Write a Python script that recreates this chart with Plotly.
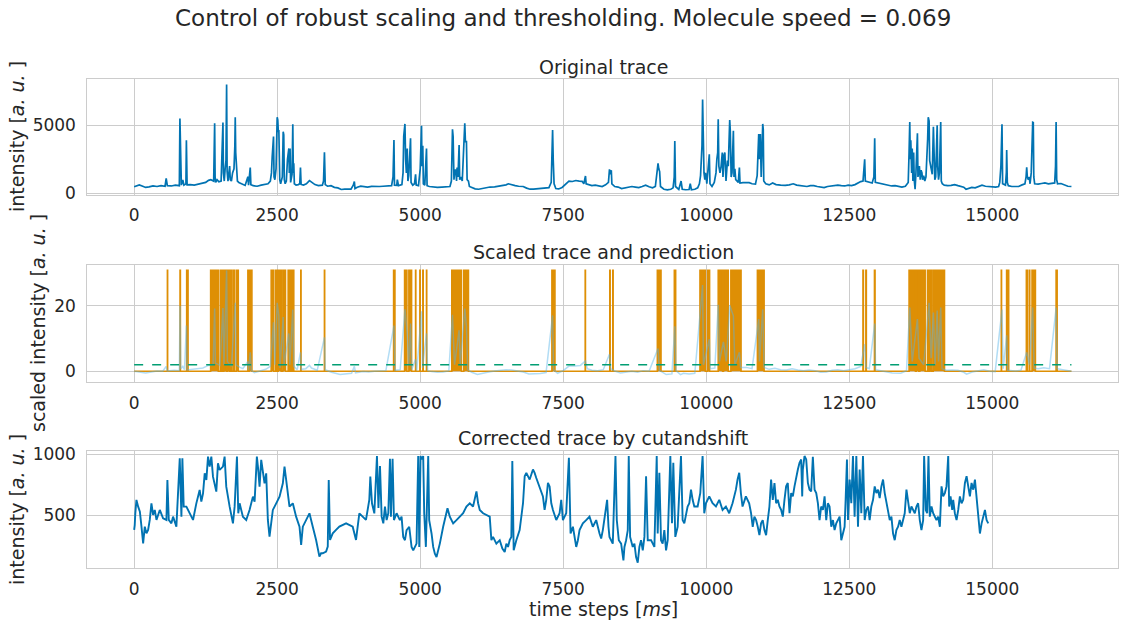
import plotly.graph_objects as go
from plotly.subplots import make_subplots

# ---- data ----
# Original trace: (time step, intensity)
ORIG_TRACE = [
    (0, 480), (40, 560), (90, 620), (150, 520), (200, 430), (260, 470), (330, 540), (400, 500),
    (470, 560), (540, 520), (560, 1100), (580, 560), (650, 540), (720, 600), (790, 560), (800, 5500),
    (812, 700), (825, 600), (850, 980), (870, 600), (905, 700), (913, 3900), (925, 620), (980, 640),
    (1050, 600), (1120, 680), (1180, 720), (1250, 800), (1300, 950), (1340, 1000), (1390, 900),
    (1400, 3000), (1407, 5150), (1415, 1200), (1425, 800), (1450, 1000), (1480, 850), (1520, 900),
    (1540, 2800), (1552, 5200), (1560, 1500), (1575, 900), (1590, 1800), (1605, 2400), (1616, 8000),
    (1625, 1600), (1640, 900), (1669, 2000), (1680, 1000), (1700, 900), (1720, 1500), (1745, 1800),
    (1760, 3500), (1767, 5590), (1775, 3000), (1790, 1400), (1805, 900), (1830, 800), (1880, 720),
    (1940, 580), (1988, 1225), (2000, 600), (2029, 1890), (2040, 640), (2080, 560), (2150, 520),
    (2220, 600), (2280, 640), (2340, 700), (2380, 900), (2400, 1500), (2413, 2700), (2425, 3200),
    (2436, 4170), (2445, 1200), (2460, 1000), (2480, 1800), (2500, 5590), (2510, 5400), (2520, 4500),
    (2529, 4660), (2545, 1000), (2560, 700), (2590, 1200), (2605, 4530), (2615, 4300), (2625, 1000),
    (2640, 700), (2660, 900), (2680, 2500), (2704, 3300), (2712, 1500), (2725, 3300), (2735, 800),
    (2760, 1400), (2773, 5070), (2782, 1500), (2790, 2200), (2800, 700), (2830, 600), (2870, 640),
    (2895, 700), (2907, 1890), (2918, 650), (2960, 600), (3010, 700), (3064, 930), (3100, 800),
    (3160, 640), (3220, 560), (3290, 600), (3310, 900), (3326, 3010), (3340, 640), (3380, 520),
    (3440, 560), (3500, 440), (3560, 400), (3620, 280), (3680, 300), (3740, 290), (3790, 310),
    (3830, 600), (3849, 860), (3860, 350), (3900, 450), (3960, 520), (4020, 480), (4080, 460),
    (4150, 510), (4220, 490), (4285, 500), (4350, 520), (4420, 540), (4500, 560), (4525, 1200),
    (4541, 3920), (4550, 600), (4590, 580), (4600, 1000), (4620, 560), (4680, 640), (4700, 1500),
    (4712, 4200), (4725, 5000), (4733, 5100), (4745, 2500), (4758, 1500), (4773, 3300), (4785, 900),
    (4800, 1300), (4815, 3000), (4831, 4040), (4840, 800), (4870, 600), (4900, 700), (4919, 1400),
    (4930, 600), (4970, 560), (5000, 1800), (5012, 4500), (5023, 4970), (5030, 2000), (5045, 3500),
    (5055, 700), (5080, 600), (5110, 3300), (5120, 560), (5160, 500), (5220, 460), (5300, 440),
    (5380, 460), (5460, 480), (5520, 500), (5545, 900), (5564, 4700), (5575, 4200), (5590, 1000),
    (5605, 1700), (5622, 1715), (5635, 900), (5645, 1900), (5660, 1200), (5670, 2000), (5680, 3550),
    (5690, 1000), (5710, 1200), (5735, 900), (5760, 2800), (5779, 5150), (5790, 3800), (5808, 3800),
    (5820, 1000), (5843, 900), (5860, 500), (5900, 420), (5960, 330), (6020, 300), (6080, 360),
    (6150, 420), (6220, 460), (6300, 470), (6380, 520), (6440, 600), (6500, 620), (6540, 700),
    (6600, 620), (6660, 560), (6720, 520), (6800, 500), (6860, 380), (6920, 300), (6980, 300),
    (7040, 330), (7100, 320), (7180, 360), (7250, 420), (7290, 800), (7305, 2600), (7314, 4650),
    (7325, 2450), (7340, 700), (7370, 350), (7420, 320), (7480, 430), (7540, 700), (7600, 900),
    (7660, 870), (7720, 940), (7780, 900), (7830, 880), (7860, 700), (7889, 1270), (7900, 700),
    (7950, 620), (8000, 560), (8060, 600), (8120, 540), (8180, 500), (8240, 620), (8290, 800),
    (8308, 1760), (8320, 1400), (8340, 1700), (8350, 700), (8400, 500), (8460, 460), (8520, 350),
    (8580, 400), (8640, 480), (8700, 500), (8760, 460), (8820, 420), (8880, 500), (8940, 600),
    (9000, 480), (9060, 400), (9110, 500), (9140, 1500), (9157, 2200), (9170, 1800), (9185, 1600),
    (9200, 500), (9260, 300), (9320, 250), (9380, 300), (9420, 400), (9440, 1200), (9450, 3850),
    (9462, 500), (9520, 280), (9560, 900), (9580, 300), (9640, 260), (9700, 280), (9720, 700),
    (9740, 260), (9800, 300), (9850, 400), (9880, 700), (9900, 1300), (9915, 3000), (9925, 3500),
    (9936, 6900), (9945, 2500), (9960, 1500), (9975, 1000), (9990, 1500), (10010, 700), (10053, 2870),
    (10065, 700), (10100, 500), (10140, 800), (10170, 1500), (10185, 2500), (10200, 3000),
    (10209, 5440), (10220, 2000), (10240, 1500), (10260, 2000), (10280, 3000), (10292, 1200),
    (10310, 2800), (10325, 3000), (10345, 900), (10370, 2400), (10385, 2000), (10400, 4000),
    (10410, 5390), (10420, 4600), (10435, 1200), (10450, 1500), (10474, 4600), (10485, 1200),
    (10500, 1800), (10515, 1000), (10540, 900), (10560, 800), (10579, 1890), (10590, 750),
    (10640, 780), (10700, 760), (10750, 780), (10800, 700), (10860, 680), (10890, 1300),
    (10900, 3000), (10917, 4360), (10930, 2500), (10945, 4360), (10960, 1200), (10975, 3500),
    (10987, 5100), (10996, 4700), (11005, 900), (11040, 700), (11100, 620), (11160, 760),
    (11220, 640), (11300, 600), (11380, 580), (11450, 620), (11520, 700), (11580, 600), (11640, 560),
    (11700, 520), (11760, 500), (11820, 560), (11880, 560), (11940, 500), (12000, 440), (12060, 420),
    (12120, 500), (12180, 520), (12240, 560), (12300, 600), (12360, 560), (12420, 540), (12480, 600),
    (12540, 560), (12600, 640), (12660, 780), (12700, 860), (12740, 900), (12769, 2500), (12780, 900),
    (12830, 860), (12900, 760), (12930, 1200), (12944, 4050), (12955, 800), (13000, 760),
    (13060, 700), (13120, 640), (13180, 600), (13240, 540), (13300, 560), (13360, 480), (13420, 450),
    (13480, 520), (13530, 800), (13545, 3000), (13557, 5240), (13566, 2500), (13575, 3900),
    (13590, 1500), (13600, 3300), (13612, 900), (13625, 3000), (13635, 1000), (13650, 300),
    (13665, 1500), (13680, 3000), (13691, 4410), (13700, 1200), (13712, 1500), (13725, 2000),
    (13740, 1000), (13755, 1700), (13770, 1500), (13780, 1000), (13800, 1300), (13820, 900),
    (13840, 1200), (13860, 2500), (13870, 4000), (13880, 5590), (13895, 5300), (13905, 2400),
    (13920, 2000), (13935, 1500), (13950, 1400), (13970, 4900), (13980, 3000), (13995, 1000),
    (14010, 1200), (14025, 4500), (14036, 5000), (14045, 2000), (14060, 1000), (14075, 1500),
    (14088, 3000), (14098, 5240), (14108, 900), (14125, 700), (14160, 600), (14220, 560),
    (14280, 580), (14340, 640), (14400, 560), (14460, 500), (14500, 450), (14540, 300), (14580, 360),
    (14640, 440), (14700, 400), (14760, 520), (14820, 600), (14880, 520), (14940, 500), (15000, 480),
    (15060, 460), (15110, 500), (15130, 800), (15150, 2000), (15169, 5070), (15180, 700),
    (15230, 600), (15245, 1500), (15251, 3190), (15262, 800), (15280, 560), (15340, 500),
    (15400, 520), (15460, 500), (15520, 620), (15570, 700), (15590, 1200), (15601, 1910),
    (15612, 1200), (15630, 1000), (15645, 1200), (15660, 700), (15680, 1500), (15695, 4800),
    (15706, 5220), (15716, 5200), (15725, 1200), (15740, 700), (15800, 680), (15860, 720),
    (15920, 760), (15980, 700), (16040, 720), (16090, 760), (16105, 2000), (16115, 5240),
    (16125, 1000), (16140, 700), (16200, 720), (16260, 600), (16320, 520), (16383, 500),
]

# Scaled trace: (time step, scaled intensity)
SCALED_TRACE = [
    (0, 0.0), (100, -0.3), (200, -0.5), (300, -0.2), (400, 0.1), (500, 0.0), (560, 1.5), (580, 0.1),
    (700, 0.3), (790, 0.2), (802, 20), (815, 0.8), (850, 1.5), (880, 0.5), (913, 14), (925, 0.4),
    (1000, 0.5), (1100, 0.8), (1200, 1.0), (1300, 1.8), (1380, 2.1), (1407, 19.2), (1420, 2.5),
    (1500, 1.8), (1552, 19.4), (1570, 2), (1616, 30.9), (1630, 3), (1700, 1.5), (1767, 21),
    (1780, 2), (1850, 1.2), (1900, 0.8), (1988, 3), (2000, 0.4), (2029, 5.8), (2050, 0.3),
    (2100, -0.4), (2200, 0.2), (2300, 0.6), (2380, 1.5), (2436, 15), (2460, 2), (2500, 21),
    (2529, 17), (2550, 1.0), (2605, 16.6), (2620, 2), (2704, 11.6), (2720, 2), (2773, 18.9),
    (2790, 1.5), (2850, 0.5), (2907, 5.8), (2920, 0.6), (3000, 0.8), (3064, 1.8), (3100, 1.0),
    (3200, 0.3), (3326, 10.4), (3340, 0.5), (3450, -0.3), (3600, -1.0), (3700, -0.9), (3800, -0.6),
    (3849, 1.5), (3870, -0.5), (4000, -0.1), (4100, -0.2), (4200, 0.0), (4300, 0.1), (4400, 0.2),
    (4541, 14), (4560, 0.3), (4650, 0.5), (4733, 19), (4773, 11.6), (4800, 2), (4831, 14.6),
    (4850, 0.5), (4919, 3.7), (4940, 0.3), (5023, 18.4), (5040, 1), (5110, 11.6), (5130, 0.2),
    (5200, -0.1), (5300, -0.3), (5400, -0.2), (5500, 0.1), (5564, 17.3), (5600, 2), (5680, 12.6),
    (5700, 2), (5779, 19.2), (5808, 13.6), (5830, 0.5), (5900, -0.3), (6000, -1.0), (6100, -0.5),
    (6200, -0.2), (6300, 0.1), (6400, 0.3), (6500, 0.5), (6600, 0.4), (6700, 0.2), (6800, -0.2),
    (6900, -0.8), (7000, -0.8), (7100, -0.7), (7200, -0.4), (7314, 17.1), (7330, 0.5), (7400, -0.6),
    (7500, 0.2), (7600, 1.6), (7700, 1.6), (7800, 1.8), (7889, 3.2), (7920, 0.8), (8000, 0.3),
    (8100, 0.2), (8200, 0.5), (8308, 5.2), (8330, 0.8), (8400, 0.1), (8500, -0.5), (8600, -0.3),
    (8700, 0.0), (8800, -0.3), (8900, 0.2), (9000, 0.0), (9157, 7), (9180, 0.3), (9300, -1.0),
    (9400, -0.8), (9450, 13.8), (9470, 0.2), (9550, -1.0), (9600, -0.6), (9700, -0.8), (9800, -0.6),
    (9936, 26.4), (9950, 2), (10053, 9.8), (10070, 0.8), (10150, 1), (10209, 20.4), (10230, 3),
    (10300, 9), (10350, 3), (10410, 20.2), (10474, 17), (10500, 2), (10579, 5.8), (10600, 1.2),
    (10700, 1.2), (10800, 0.8), (10917, 16), (10930, 3), (10987, 19), (11010, 1.2), (11100, 0.6),
    (11200, 0.9), (11300, 0.5), (11400, 0.4), (11500, 0.8), (11600, 0.4), (11700, 0.2), (11800, 0.4),
    (11900, 0.2), (12000, -0.3), (12100, -0.2), (12200, 0.3), (12300, 0.5), (12400, 0.2),
    (12500, 0.5), (12600, 0.8), (12700, 1.5), (12769, 8.3), (12790, 1.2), (12850, 0.8),
    (12944, 14.6), (12960, 0.5), (13050, 0.2), (13150, -0.2), (13250, -0.5), (13400, -0.6),
    (13500, 0.2), (13557, 19.5), (13600, 3), (13691, 16), (13720, 4), (13800, 2), (13895, 21),
    (13930, 4), (13970, 18), (14000, 2), (14036, 18.6), (14060, 3), (14098, 19.5), (14120, 0.8),
    (14200, 0.3), (14300, 0.4), (14400, 0.3), (14500, -0.3), (14550, -0.9), (14650, -0.2),
    (14750, 0.1), (14850, 0.5), (14950, 0.0), (15050, -0.1), (15169, 18.9), (15190, 0.8),
    (15251, 11), (15270, 0.3), (15400, 0.1), (15500, 0.3), (15601, 5.8), (15650, 2), (15706, 19.5),
    (15730, 1), (15800, 0.8), (15900, 1.1), (16000, 0.8), (16115, 19.5), (16130, 0.8), (16250, 0.4),
    (16383, 0.0),
]

# Prediction: intervals where the predicted state is "on"
PRED_START = [
    581, 802, 918, 1337, 1506, 1529, 1552, 1570, 1634, 1692, 1727, 1785, 1988, 2017, 2395, 2471,
    2517, 2599, 2692, 2715, 2738, 2762, 2785, 2913, 3326, 4535, 4727, 4802, 4919, 4994, 5046, 5110,
    5552, 5762, 7302, 7884, 8314, 8366, 9145, 9442, 9461, 9890, 10023, 10209, 10302, 10430, 10894,
    12739, 12790, 12940, 13545, 13674, 13732, 13867, 13907, 13966, 15157, 15250, 15280, 15595,
    15645, 15694, 16115,
]
PRED_END = [
    585, 808, 942, 1471, 1510, 1533, 1556, 1610, 1669, 1697, 1750, 1820, 1992, 2058, 2436, 2494,
    2570, 2645, 2696, 2720, 2743, 2767, 2790, 2917, 3330, 4558, 4767, 4849, 4923, 5000, 5052, 5114,
    5721, 5843, 7355, 7888, 8320, 8372, 9209, 9446, 9465, 9983, 10058, 10285, 10384, 10608, 11011,
    12746, 12798, 12950, 13656, 13715, 13826, 13884, 13937, 14164, 15161, 15256, 15286, 15610,
    15654, 15753, 16133,
]
PRED_LEVEL = 30.9
THRESHOLD = 2.0
LAST_STEP = 16383

# Corrected trace: (time step, intensity)
CORR_TRACE = [
    (0, 380), (10, 420), (20, 516), (40, 626), (70, 571), (100, 530), (128, 407), (157, 270),
    (186, 407), (215, 352), (244, 380), (273, 462), (302, 598), (331, 503), (360, 544), (390, 462),
    (448, 544), (506, 475), (564, 462), (581, 790), (605, 462), (651, 434), (680, 489), (738, 407),
    (797, 967), (826, 489), (843, 967), (866, 571), (913, 571), (971, 516), (1029, 462), (1087, 598),
    (1145, 708), (1174, 612), (1204, 680), (1233, 844), (1262, 790), (1291, 981), (1320, 899),
    (1349, 981), (1378, 817), (1436, 694), (1465, 926), (1494, 872), (1552, 899), (1581, 981),
    (1610, 735), (1669, 571), (1727, 434), (1756, 571), (1797, 981), (1820, 516), (1843, 598),
    (1901, 489), (1959, 462), (2017, 544), (2076, 653), (2105, 612), (2145, 981), (2169, 872),
    (2192, 735), (2221, 954), (2250, 872), (2279, 762), (2308, 844), (2337, 462), (2366, 325),
    (2395, 462), (2424, 544), (2483, 598), (2541, 653), (2599, 762), (2628, 899), (2657, 790),
    (2686, 680), (2715, 571), (2773, 598), (2831, 489), (2890, 407), (2919, 257), (2948, 407),
    (3006, 462), (3064, 516), (3122, 407), (3180, 298), (3238, 161), (3267, 189), (3297, 189),
    (3355, 202), (3384, 243), (3401, 790), (3424, 298), (3471, 352), (3529, 380), (3587, 407),
    (3704, 434), (3820, 407), (3878, 298), (3936, 516), (3994, 489), (4052, 462), (4110, 626),
    (4128, 817), (4157, 598), (4198, 516), (4244, 985), (4270, 560), (4297, 903), (4326, 489),
    (4355, 434), (4384, 572), (4413, 461), (4442, 517), (4471, 964), (4488, 489), (4517, 964),
    (4541, 461), (4587, 517), (4645, 461), (4674, 489), (4703, 323), (4733, 296), (4762, 379),
    (4808, 406), (4849, 241), (4878, 213), (4936, 268), (4965, 986), (4983, 241), (5006, 986),
    (5029, 958), (5052, 986), (5070, 517), (5099, 241), (5140, 986), (5157, 461), (5180, 406),
    (5198, 351), (5227, 241), (5256, 185), (5285, 158), (5314, 213), (5343, 268), (5401, 406),
    (5448, 517), (5477, 558), (5517, 489), (5576, 434), (5634, 461), (5692, 489), (5750, 517),
    (5808, 572), (5866, 599), (5924, 572), (5953, 627), (5983, 696), (6012, 599), (6041, 544),
    (6099, 517), (6157, 503), (6215, 489), (6244, 296), (6273, 323), (6331, 268), (6390, 296),
    (6436, 227), (6477, 199), (6506, 268), (6535, 241), (6564, 296), (6593, 323), (6610, 944),
    (6634, 213), (6680, 296), (6738, 379), (6797, 599), (6826, 820), (6855, 848), (6913, 793),
    (6971, 875), (7000, 848), (7029, 806), (7087, 737), (7145, 655), (7174, 544), (7203, 627),
    (7233, 765), (7262, 737), (7291, 599), (7320, 544), (7378, 461), (7436, 517), (7465, 627),
    (7494, 461), (7552, 517), (7599, 972), (7628, 351), (7669, 406), (7727, 241), (7756, 296),
    (7785, 379), (7843, 434), (7901, 461), (7959, 489), (8017, 406), (8076, 461), (8134, 351),
    (8163, 310), (8192, 379), (8250, 599), (8267, 627), (8291, 406), (8308, 323), (8366, 268),
    (8413, 986), (8436, 461), (8471, 296), (8512, 268), (8552, 130), (8570, 241), (8599, 296),
    (8628, 379), (8645, 986), (8669, 323), (8715, 241), (8744, 268), (8773, 158), (8802, 112),
    (8831, 241), (8860, 296), (8890, 213), (8919, 323), (8948, 820), (8977, 296), (9035, 296),
    (9093, 241), (9134, 986), (9151, 351), (9180, 848), (9209, 296), (9238, 268), (9267, 379),
    (9297, 213), (9326, 296), (9372, 986), (9401, 434), (9424, 931), (9459, 323), (9500, 406),
    (9558, 986), (9587, 461), (9616, 434), (9674, 572), (9704, 599), (9733, 710), (9762, 627),
    (9791, 572), (9849, 572), (9895, 682), (9936, 986), (9965, 517), (9994, 599), (10052, 655),
    (10110, 599), (10169, 572), (10227, 627), (10285, 544), (10343, 572), (10401, 517), (10459, 599),
    (10518, 710), (10547, 793), (10576, 848), (10605, 682), (10634, 572), (10692, 655), (10750, 599),
    (10783, 517), (10812, 406), (10841, 489), (10871, 461), (10900, 406), (10929, 337), (10958, 434),
    (10987, 461), (11017, 379), (11046, 337), (11075, 461), (11104, 572), (11133, 793), (11163, 627),
    (11192, 765), (11221, 599), (11250, 627), (11279, 572), (11309, 544), (11338, 489), (11367, 627),
    (11396, 737), (11425, 765), (11455, 517), (11484, 682), (11513, 655), (11542, 737), (11571, 820),
    (11601, 875), (11630, 931), (11659, 958), (11677, 655), (11688, 875), (11717, 986), (11747, 958),
    (11776, 765), (11805, 710), (11834, 696), (11863, 980), (11893, 710), (11922, 682), (11951, 599),
    (11980, 461), (12009, 572), (12039, 544), (12068, 655), (12097, 461), (12126, 599), (12155, 572),
    (12185, 406), (12214, 461), (12243, 379), (12272, 434), (12301, 461), (12331, 489), (12360, 296),
    (12389, 351), (12418, 406), (12436, 627), (12459, 958), (12477, 461), (12506, 793), (12535, 599),
    (12564, 986), (12593, 489), (12623, 986), (12652, 406), (12681, 875), (12710, 517), (12739, 986),
    (12769, 461), (12798, 544), (12827, 572), (12856, 461), (12885, 572), (12915, 627), (12944, 737),
    (12973, 682), (13002, 710), (13031, 641), (13061, 737), (13090, 793), (13119, 682), (13148, 599),
    (13177, 517), (13207, 461), (13236, 489), (13265, 351), (13294, 296), (13323, 379), (13353, 406),
    (13382, 461), (13411, 406), (13440, 461), (13469, 517), (13499, 710), (13528, 627), (13557, 517),
    (13586, 572), (13615, 544), (13645, 517), (13674, 572), (13703, 599), (13732, 461), (13761, 379),
    (13791, 461), (13808, 986), (13837, 544), (13861, 517), (13884, 986), (13907, 489), (13937, 572),
    (13966, 517), (14024, 461), (14053, 489), (14083, 406), (14112, 737), (14141, 655), (14170, 682),
    (14199, 737), (14229, 986), (14246, 572), (14270, 655), (14299, 544), (14316, 627), (14345, 517),
    (14375, 461), (14404, 544), (14433, 655), (14462, 599), (14491, 627), (14521, 765), (14550, 820),
    (14579, 737), (14608, 655), (14637, 765), (14667, 710), (14696, 793), (14725, 627), (14754, 517),
    (14783, 351), (14813, 434), (14842, 489), (14871, 544), (14900, 461), (14929, 434),
]

TITLE = "Control of robust scaling and thresholding. Molecule speed = 0.069"
PANEL_TITLES = ["Original trace", "Scaled trace and prediction", "Corrected trace by cutandshift"]
Y_LABELS = ["intensity [<i>a. u.</i> ]", "scaled intensity [<i>a. u.</i> ]", "intensity [<i>a. u.</i> ]"]
X_LABEL = "time steps [<i>ms</i>]"

# ---- styling ----
W, H = 1124, 628
TEXT = "#262626"
GRID = "#cccccc"
BLUE = "#0173B2"
ORANGE = "#DE8F05"
GREEN = "#029E73"
LIGHT_BLUE = "#56B4E9"
FONT = "DejaVu Sans"

# panel boxes in pixels: (top, bottom)
PANELS = [(79.3, 195.0), (265.0, 382.3), (450.7, 568.3)]
LEFT, RIGHT = 87.3, 1118.3
Y_RANGES = [[-125, 8382], [-3.37, 32.55], [65.6, 1029.5]]
Y_DTICK = [5000, 20, 500]
X_RANGE = [-819, 17202]


def px_x(px):
    return px / W


def px_y(py):
    return 1 - py / H


def step_path(starts, ends, level, last):
    xs, ys = [0], [0]
    for s, e in zip(starts, ends):
        xs += [s, s, e, e]
        ys += [0, level, level, 0]
    xs.append(last)
    ys.append(0)
    return xs, ys


fig = make_subplots(rows=3, cols=1)

ox, oy = zip(*ORIG_TRACE)
fig.add_trace(go.Scatter(x=ox, y=oy, mode="lines", line=dict(color=BLUE, width=1.7)), row=1, col=1)

px_, py_ = step_path(PRED_START, PRED_END, PRED_LEVEL, LAST_STEP)
fig.add_trace(
    go.Scatter(x=px_, y=py_, mode="lines", fill="tozeroy", fillcolor=ORANGE,
               line=dict(color=ORANGE, width=1.6)),
    row=2, col=1,
)
sx, sy = zip(*SCALED_TRACE)
fig.add_trace(
    go.Scatter(x=sx, y=sy, mode="lines", opacity=0.45, line=dict(color=LIGHT_BLUE, width=1.5)),
    row=2, col=1,
)
fig.add_trace(
    go.Scatter(x=[0, LAST_STEP], y=[THRESHOLD, THRESHOLD], mode="lines",
               line=dict(color=GREEN, width=1.3, dash="dash")),
    row=2, col=1,
)

cx, cy = zip(*CORR_TRACE)
fig.add_trace(go.Scatter(x=cx, y=cy, mode="lines", line=dict(color=BLUE, width=1.9)), row=3, col=1)

axis_common = dict(
    showgrid=True, gridcolor=GRID, gridwidth=1, zeroline=False,
    showline=True, linecolor=GRID, linewidth=1, mirror=True,
    ticks="", tickformat="d", tickfont=dict(family=FONT, size=17, color=TEXT),
)

layout_axes = {}
for i, (top, bottom) in enumerate(PANELS):
    n = "" if i == 0 else str(i + 1)
    layout_axes["xaxis" + n] = dict(
        axis_common, domain=[px_x(LEFT), px_x(RIGHT)], range=X_RANGE,
        tick0=0, dtick=2500, ticklabelstandoff=5,
    )
    layout_axes["yaxis" + n] = dict(
        axis_common, domain=[px_y(bottom), px_y(top)], range=Y_RANGES[i],
        tick0=0, dtick=Y_DTICK[i], ticklabelstandoff=7,
    )

annotations = [
    dict(text=TITLE, x=px_x(563), y=px_y(18), font=dict(size=23, color=TEXT, family=FONT)),
    dict(text=X_LABEL, x=px_x(603), y=px_y(609), font=dict(size=19, color=TEXT, family=FONT)),
]
for t, cy_ in zip(PANEL_TITLES, [67, 252, 438]):
    annotations.append(dict(text=t, x=px_x(603), y=px_y(cy_), font=dict(size=19, color=TEXT, family=FONT)))
for t, (lx, ly) in zip(Y_LABELS, [(17, 137), (38, 323), (17, 510)]):
    annotations.append(dict(text=t, x=px_x(lx), y=px_y(ly), textangle=-90,
                            font=dict(size=19, color=TEXT, family=FONT)))
for a in annotations:
    a.update(xref="paper", yref="paper", xanchor="center", yanchor="middle", showarrow=False)

fig.update_layout(
    width=W, height=H,
    margin=dict(l=0, r=0, t=0, b=0, autoexpand=False),
    paper_bgcolor="white", plot_bgcolor="white",
    showlegend=False,
    font=dict(family=FONT, color=TEXT),
    annotations=annotations,
    **layout_axes,
)

# the page body has a default margin; drop it so the figure sits at the window corner
fig.write_html(
    "out.html",
    config={"displayModeBar": False},
    post_script="document.body.style.margin = '0px';",
)
